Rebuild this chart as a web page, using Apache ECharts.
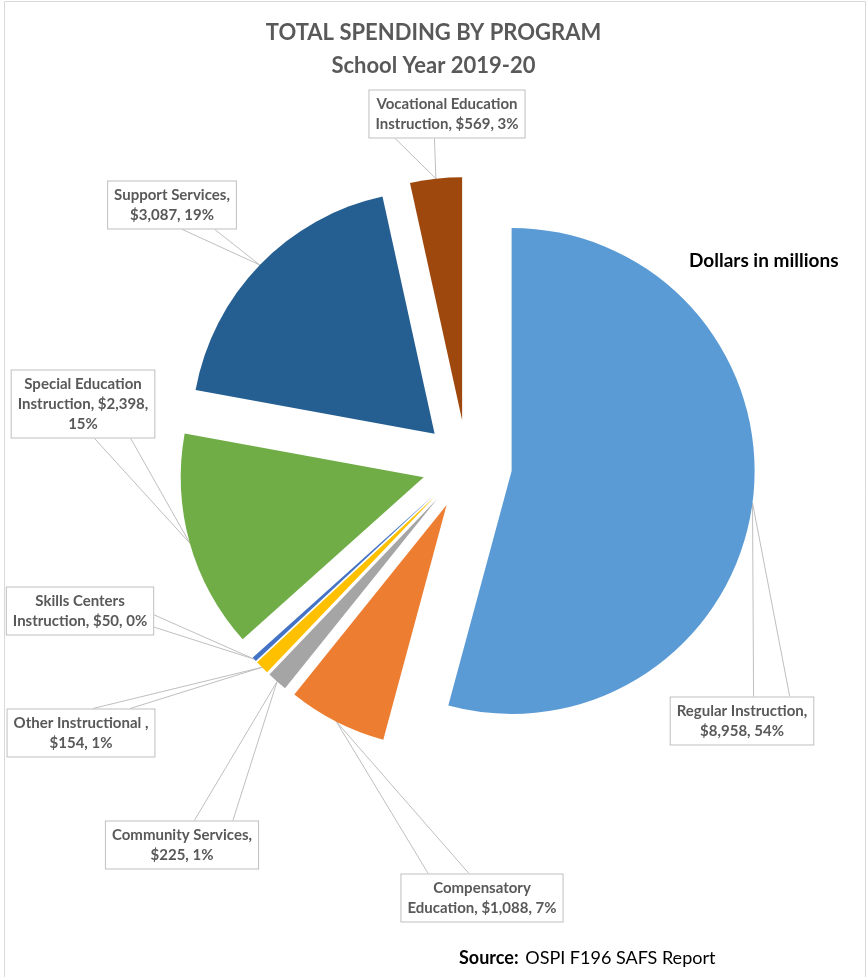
<!DOCTYPE html>
<html>
<head>
<meta charset="utf-8">
<script src="https://cdn.jsdelivr.net/npm/echarts@6/dist/echarts.min.js"></script>
<style>html,body{margin:0;padding:0;background:#fff}#chart{width:867px;height:977px}</style>
</head>
<body>
<div id="chart"></div>
<script>
// ---- data ----
var categories = ['Regular Instruction', 'Compensatory Education', 'Community Services', 'Other Instructional ', 'Skills Centers Instruction', 'Special Education Instruction', 'Support Services', 'Vocational Education Instruction'];
var values = [8958, 1088, 225, 154, 50, 2398, 3087, 569];
var colors = ['#5B9BD5', '#ED7D31', '#A5A5A5', '#FFC000', '#4472C4', '#70AD47', '#255E91', '#9E480E'];
// ---- layout (label box centres and word-break positions) ----
var labelPos = [[742, 721], [482, 898], [182, 845], [81, 733], [80, 611], [83, 404], [172, 205], [447, 114]];
var labelBreaks = [[2], [1], [2], [3], [2], [2, 4], [2], [2]];
var CENTER = [467, 465], OFFSET = 45;

var total = values.reduce(function (a, b) { return a + b; }, 0);
function fmt(v) { return v.toLocaleString('en-US'); }
function labelText(i) {
  var pct = Math.round(values[i] / total * 100);
  var words = (categories[i] + ', $' + fmt(values[i]) + ', ' + pct + '%').split(' ');
  var lines = [], cur = '';
  for (var k = 0; k < words.length; k++) {
    if (k > 0 && labelBreaks[i].indexOf(k) >= 0) { lines.push(cur); cur = words[k]; }
    else cur = cur ? cur + ' ' + words[k] : words[k];
  }
  lines.push(cur);
  return lines.map(function (l) { return '{c|' + l + '}'; }).join('\n');
}

var chart = echarts.init(document.getElementById('chart'), null, { renderer: 'canvas' });
var data = categories.map(function (c, i) {
  return { name: c, value: values[i], selected: true, itemStyle: { color: colors[i] } };
});

chart.setOption({
  animation: false,
  backgroundColor: '#ffffff',
  title: {
    text: 'TOTAL SPENDING BY PROGRAM\nSchool Year 2019-20',
    left: 'center',
    top: 11,
    textStyle: { fontFamily: 'Lato', fontSize: 22, fontWeight: 'bold', color: '#595959', lineHeight: 33 }
  },
  graphic: [
    { type: 'rect', shape: { x: 4.5, y: 1.5, width: 861, height: 1000 }, style: { fill: 'none', stroke: '#d9d9d9', lineWidth: 1 }, silent: true },
    { type: 'text', left: 689, top: 251, style: { text: 'Dollars in millions', font: 'bold 19px Lato', fill: '#000' } },
    { type: 'text', left: 459, top: 949, style: {
        text: '{b|Source:}  {n|OSPI F196 SAFS Report}',
        rich: { b: { fontFamily: 'Lato', fontSize: 18, fontWeight: 'bold', color: '#000' }, n: { fontFamily: 'Lato', fontSize: 18, color: '#000' } }
      } }
  ],
  series: [{
    type: 'pie',
    center: CENTER,
    radius: [0, 243],
    startAngle: 90,
    clockwise: true,
    selectedMode: 'multiple',
    selectedOffset: OFFSET,
    avoidLabelOverlap: false,
    data: data,
    emphasis: { disabled: true },
    label: {
      show: true,
      position: 'outside',
      formatter: function (p) { return labelText(p.dataIndex); },
      fontFamily: 'Lato',
      fontSize: 15,
      fontWeight: 'bold',
      color: '#595959',
      lineHeight: 20,
      backgroundColor: '#ffffff',
      borderColor: '#bfbfbf',
      borderWidth: 1,
      padding: [4, 6, 3, 6],
      rich: {
        c: { align: 'center', fontFamily: 'Lato', fontSize: 15, fontWeight: 'bold', color: '#595959', lineHeight: 20 }
      }
    },
    labelLine: { show: true, length: 10, length2: 10, lineStyle: { color: '#bfbfbf', width: 1 } },
    labelLayout: function (params) {
      var i = params.dataIndex, p = labelPos[i], r = params.labelRect;
      var pts = params.labelLinePoints;
      var ox = 0, oy = 0;
      if (pts && pts.length) {
        var vx = pts[0][0] - CENTER[0], vy = pts[0][1] - CENTER[1];
        var len = Math.sqrt(vx * vx + vy * vy) || 1;
        ox = OFFSET * vx / len; oy = OFFSET * vy / len;
      }
      var dx = p[0] - ox - (r.x + r.width / 2), dy = p[1] - oy - (r.y + r.height / 2);
      var res = { dx: dx, dy: dy };
      if (pts && pts.length) {
        var a = pts[0];
        var w = r.width, h = r.height, bx = r.x + dx, by = r.y + dy;
        var cx = bx + w / 2, cy = by + h / 2;
        var ax = a[0] - cx, ay = a[1] - cy;
        var e1, e2;
        if (Math.abs(ax) / (w / 2) > Math.abs(ay) / (h / 2)) {
          var sx = ax > 0 ? bx + w : bx;
          var f = ay > 0 ? [0.58, 0.83] : [0.17, 0.42];
          e1 = [sx, by + f[0] * h]; e2 = [sx, by + f[1] * h];
        } else {
          var sy = ay > 0 ? by + h : by;
          var g = ax > 0 ? [0.58, 0.83] : [0.17, 0.42];
          e1 = [bx + g[0] * w, sy]; e2 = [bx + g[1] * w, sy];
        }
        res.labelLinePoints = [e1, a, e2];
      }
      return res;
    }
  }]
});
</script>
</body>
</html>
